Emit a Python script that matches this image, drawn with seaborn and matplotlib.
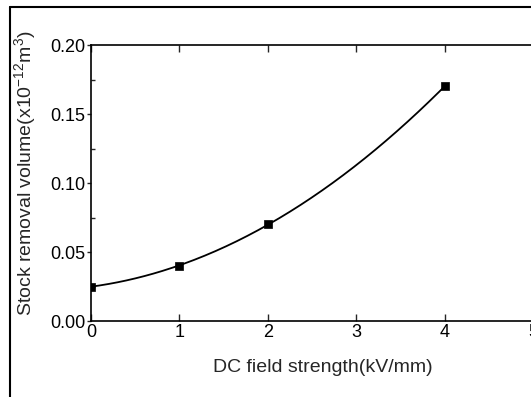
import matplotlib as mpl
import matplotlib.pyplot as plt
import numpy as np
import pandas as pd
import seaborn as sns
from matplotlib.lines import Line2D

# measured points
field = [0, 1, 2, 4]
volume = [0.025, 0.040, 0.070, 0.170]

x_ticks = [0, 1, 2, 3, 4, 5]
y_ticks = [0.00, 0.05, 0.10, 0.15, 0.20]


def main():
    sns.set_style('ticks')
    plt.rcParams['font.family'] = ['Liberation Sans', 'DejaVu Sans']
    plt.rcParams['mathtext.default'] = 'regular'

    df = pd.DataFrame({'field': field, 'volume': volume})

    # smooth fitted curve through the points
    coef = np.polyfit(df['field'], df['volume'], 2)
    xs = np.linspace(0, 4, 200)
    fit = pd.DataFrame({'field': xs, 'volume': np.polyval(coef, xs)})

    fig = plt.figure(figsize=(5.31, 3.97), dpi=100)
    ax = fig.add_axes([0.1714, 0.1914, 0.8324, 0.6952])

    sns.lineplot(x='field', y='volume', data=fit, color='black', lw=1.3, ax=ax)
    sns.scatterplot(x='field', y='volume', data=df, marker='s', s=38,
                    color='black', edgecolor='black', zorder=5, ax=ax)

    ax.set_xlim(0, 5)
    ax.set_ylim(0, 0.2)
    ax.set_xticks(x_ticks)
    ax.set_yticks(y_ticks)
    ax.set_yticklabels([f'{v:.2f}' for v in y_ticks])
    ax.set_yticks(np.arange(0.025, 0.2, 0.05), minor=True)

    ax.tick_params(axis='x', which='major', direction='in', length=5,
                   width=1, labelsize=13, pad=2, top=True, labelcolor='black')
    ax.tick_params(axis='y', which='major', direction='out', length=3,
                   width=1, labelsize=13, pad=1, labelcolor='black')
    ax.tick_params(axis='y', which='minor', direction='in', length=3,
                   width=1)

    for side in ['left', 'bottom', 'top']:
        ax.spines[side].set_linewidth(1.2)
        ax.spines[side].set_color('black')
    ax.spines['right'].set_visible(False)

    ax.set_xlabel('DC field strength(kV/mm)', fontsize=14)
    ax.set_ylabel('Stock removal volume(x10$^{-12}$m$^{3}$)', fontsize=14)
    ax.xaxis.set_label_coords(0.525, -0.17)
    ax.yaxis.set_label_coords(-0.15, 0.535)
    ax.xaxis.label.set_va('center')
    ax.yaxis.label.set_va('center')

    # outer frame of the original figure
    fig.add_artist(Line2D([10 / 531, 10 / 531], [0, 1 - 7 / 397],
                          transform=fig.transFigure, color='black', lw=1.5))
    fig.add_artist(Line2D([10 / 531, 1], [1 - 7 / 397, 1 - 7 / 397],
                          transform=fig.transFigure, color='black', lw=1.5))

    plt.savefig('out.png', dpi=100)


if __name__ == '__main__':
    main()
